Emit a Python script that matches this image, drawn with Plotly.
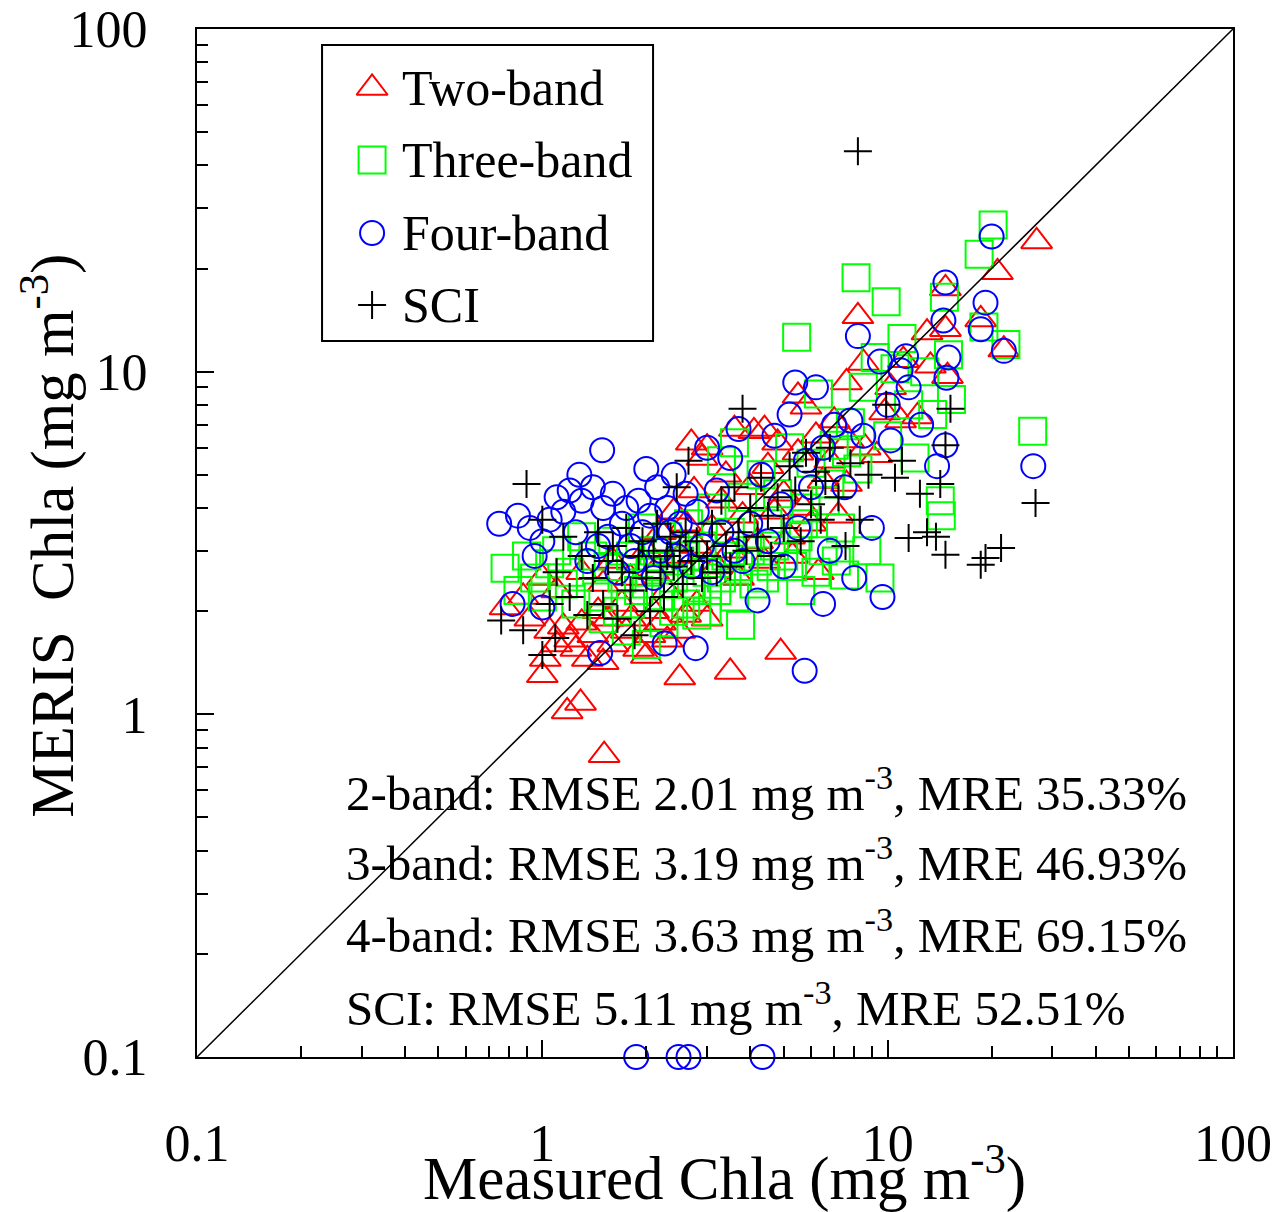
import plotly.graph_objects as go

# ---------------- data (mg m^-3) ----------------
two_x = [0.78, 0.88, 0.92, 1.0, 1.02, 1.05, 1.1, 1.15, 1.18, 1.2, 1.25, 1.29, 1.3, 1.35, 1.4, 1.45,
         1.51, 1.5, 1.55, 1.6, 1.7, 1.75, 1.8, 1.9, 2.0, 2.05, 2.1, 2.2, 2.3, 2.5, 2.5, 2.6, 2.8, 3.0,
         3.5, 4.9, 1.0, 1.1, 1.3, 1.5, 1.6, 1.8, 2.0, 2.1, 2.2, 2.3, 2.4, 2.5, 2.6, 2.7, 2.75, 2.8,
         2.9, 3.0, 3.1, 3.2, 3.3, 3.4, 3.5, 3.6, 3.7, 3.8, 4.0, 4.1, 4.2, 4.4, 4.5, 4.7, 4.8, 5.0,
         5.2, 5.3, 5.5, 5.5, 5.7, 5.8, 6.0, 6.2, 6.3, 6.5, 6.8, 7.0, 7.2, 7.6, 7.7, 7.6, 8.2, 8.5,
         8.6, 9.3, 9.8, 10.2, 10.9, 11.1, 12.2, 13.0, 13.3, 14.7, 14.7, 14.9, 18.6, 20.8, 21.7,
         27.0, 4.4]
two_y = [2.05, 2.2, 1.9, 1.3, 1.45, 1.75, 1.6, 1.8, 1.02, 1.65, 1.55, 1.08, 1.85, 1.45, 1.7, 2.0,
         0.76, 1.42, 1.9, 1.6, 2.1, 1.75, 1.9, 1.55, 1.48, 1.7, 2.0, 1.85, 1.65, 1.28, 1.75, 1.95,
         2.1, 1.9, 1.33, 1.52, 2.5, 2.3, 2.6, 2.4, 2.8, 2.5, 3.0, 2.6, 3.4, 2.3, 3.9, 2.9, 3.6, 6.2,
         4.5, 3.1, 5.6, 6.0, 3.5, 2.7, 4.2, 5.0, 3.0, 6.8, 2.5, 3.8, 4.6, 6.7, 3.2, 2.8, 5.3, 3.9,
         6.2, 4.4, 3.3, 2.9, 5.8, 8.5, 4.0, 7.9, 3.6, 6.5, 2.6, 4.8, 5.5, 7.2, 3.8, 9.3, 6.3, 4.7,
         14.5, 10.6, 6.0, 5.7, 7.6, 9.0, 7.2, 10.8, 7.4, 13.0, 10.4, 13.3, 17.5, 9.7, 14.2, 19.5,
         11.6, 24.0, 6.8]

three_x = [0.78, 0.85, 0.9, 0.95, 1.0, 1.05, 1.1, 1.15, 1.2, 1.25, 1.3, 1.4, 1.45, 1.5, 1.55, 1.6,
           1.65, 1.7, 1.75, 1.8, 1.9, 1.95, 2.0, 2.05, 2.1, 2.2, 2.25, 2.3, 2.4, 2.5, 2.6, 2.65,
           2.7, 2.8, 2.9, 3.0, 3.1, 3.2, 3.3, 3.4, 3.5, 3.6, 3.7, 3.75, 3.8, 4.0, 4.1, 4.3, 4.5,
           4.6, 4.8, 5.0, 5.2, 5.45, 5.5, 5.6, 5.8, 6.0, 6.2, 6.3, 6.5, 6.8, 7.0, 7.3, 7.5, 7.8,
           8.1, 8.2, 8.5, 8.7, 9.2, 9.5, 9.9, 10.0, 10.5, 11.0, 11.5, 12.0, 12.8, 13.5, 14.2,
           14.3, 14.6, 15.0, 15.3, 18.4, 19.0, 20.2, 22.0, 26.3, 1.8, 2.0, 2.2, 2.4, 2.6, 2.8,
           3.0, 3.3, 3.6, 4.2, 4.4, 4.7, 5.3, 5.7, 6.6, 7.1, 7.6]
three_y = [2.67, 2.3, 2.9, 2.5, 2.2, 2.75, 3.0, 2.4, 2.6, 2.1, 3.3, 2.9, 2.2, 1.9, 2.7, 3.2,
           2.0, 2.5, 1.75, 2.9, 2.3, 3.5, 1.6, 2.6, 3.0, 2.2, 1.85, 3.3, 2.5, 2.8, 2.1, 3.6,
           2.4, 1.95, 3.1, 2.6, 4.0, 2.3, 5.5, 2.9, 3.4, 6.2, 2.7, 1.82, 4.3, 3.0, 2.4, 5.0, 3.6,
           2.7, 4.4, 2.9, 6.0, 12.6, 3.3, 2.3, 4.0, 5.4, 2.6, 8.6, 3.0, 4.7, 6.1, 3.5, 2.55, 7.1,
           18.8, 5.2, 9.0, 3.0, 11.0, 2.5, 16.0, 6.5, 10.2, 12.5, 8.0, 5.6, 10.0, 7.5, 4.2,
           3.8, 16.5, 11.2, 8.3, 22.0, 13.5, 26.8, 12.0, 6.7, 2.1, 2.4, 2.7, 2.0, 2.9, 2.3,
           2.0, 2.5, 2.2, 2.8, 2.5, 3.1, 2.7, 3.6, 4.2, 2.8, 5.8]

four_x = [0.75, 0.82, 0.85, 0.92, 0.95, 1.0, 1.0, 1.05, 1.1, 1.15, 1.2, 1.25, 1.28, 1.3, 1.35,
          1.4, 1.45, 1.47, 1.49, 1.5, 1.55, 1.6, 1.65, 1.7, 1.75, 1.8, 1.85, 1.9, 1.95, 2.0, 2.05,
          2.1, 2.15, 2.2, 2.26, 2.3, 2.35, 2.4, 2.45, 2.5, 2.6, 2.7, 2.78, 2.8, 2.9, 3.0, 3.1,
          3.2, 3.3, 3.5, 3.6, 3.7, 3.8, 4.0, 4.2, 4.3, 4.5, 4.7, 4.9, 5.0, 5.2, 5.4, 5.5, 5.75,
          5.8, 6.0, 6.2, 6.5, 6.5, 6.8, 7.0, 7.5, 7.8, 8.0, 8.2, 8.5, 9.0, 9.5, 9.66, 10.0, 10.2,
          10.9, 11.3, 11.5, 12.5, 13.9, 14.5, 14.7, 14.7, 14.8, 15.0, 18.6, 19.2, 20.0, 21.7,
          26.4, 1.87, 2.48, 2.65, 4.34]
four_y = [3.6, 2.1, 3.8, 3.5, 2.9, 3.2, 2.05, 3.7, 4.3, 3.9, 4.5, 3.4, 5.0, 4.2, 2.8,
          4.6, 3.1, 1.51, 5.9, 4.0, 3.3, 4.4, 2.6, 3.6, 4.0, 3.1, 2.8, 4.2, 3.4, 5.2, 3.8,
          2.5, 4.6, 3.0, 1.61, 4.0, 3.4, 5.0, 2.9, 3.6, 4.4, 2.7, 1.56, 3.9, 3.1, 6.0, 2.6,
          4.5, 3.4, 5.6, 3.0, 6.8, 2.8, 3.6, 2.15, 5.0, 3.2, 6.5, 4.1, 2.7, 7.5, 9.3, 3.5, 1.34,
          5.5, 4.6, 9.0, 2.1, 6.0, 3.0, 7.0, 4.6, 7.2, 2.5, 12.7, 6.5, 3.5, 10.7, 2.2, 8.0, 6.3,
          10.1, 11.1, 9.0, 7.0, 5.3, 14.1, 18.2, 6.1, 9.6, 11.0, 13.3, 15.9, 24.8, 11.5,
          5.3, 0.1, 0.1, 0.1, 0.1]

sci_x = [0.76, 0.88, 0.9, 1.0, 1.0, 1.05, 1.09, 1.1, 1.15, 1.2, 1.3, 1.35, 1.4, 1.45, 1.5, 1.55,
         1.6, 1.65, 1.7, 1.75, 1.8, 1.85, 1.9, 1.95, 2.0, 2.05, 2.1, 2.15, 2.2, 2.25, 2.3, 2.35,
         2.4, 2.45, 2.5, 2.55, 2.6, 2.65, 2.7, 2.8, 2.9, 3.0, 3.1, 3.2, 3.3, 3.4, 3.5, 3.6, 3.7,
         3.8, 3.9, 4.0, 4.2, 4.3, 4.5, 4.6, 4.8, 5.0, 5.2, 5.4, 5.6, 5.8, 6.0, 6.2, 6.4, 6.6, 6.8,
         7.2, 7.55, 7.8, 8.2, 8.3, 8.8, 9.9, 10.5, 11.0, 11.5, 12.4, 13.0, 13.8, 14.2, 14.7, 14.7,
         15.2, 18.6, 19.2, 21.3, 26.8]
sci_y = [1.88, 1.76, 4.7, 1.49, 3.7, 2.1, 1.67, 2.6, 3.3, 2.2, 2.9, 1.95, 2.5, 3.4, 2.1, 2.8,
         3.1, 1.9, 2.6, 3.5, 2.3, 1.7, 2.9, 3.2, 2.5, 2.0, 3.0, 3.6, 2.6, 2.2, 2.9, 3.3,
         2.7, 4.6, 3.0, 2.4, 3.4, 5.5, 2.8, 3.2, 2.5, 2.9, 3.6, 2.6, 4.2, 3.1, 2.7, 4.6, 3.4,
         7.8, 3.0, 4.0, 3.3, 4.9, 3.8, 2.9, 4.3, 3.5, 5.3, 4.5, 3.2, 5.8, 4.1, 5.1, 3.7, 4.8, 6.0,
         4.3, 3.1, 5.4, 44.0, 3.7, 5.0, 8.0, 4.9, 5.5, 3.27, 4.4, 3.4, 3.3, 4.7, 2.92, 6.1,
         7.8, 2.73, 2.86, 3.06, 4.14]

series_names = ["Two-band", "Three-band", "Four-band", "SCI"]
stats_lines = [
    "2-band: RMSE 2.01 mg m<sup>-3</sup>, MRE 35.33%",
    "3-band: RMSE 3.19 mg m<sup>-3</sup>, MRE 46.93%",
    "4-band: RMSE 3.63 mg m<sup>-3</sup>, MRE 69.15%",
    "SCI: RMSE 5.11 mg m<sup>-3</sup>, MRE 52.51%",
]
tick_vals = [0.1, 1, 10, 100]
tick_text = ["0.1", "1", "10", "100"]
one_to_one = [0.1, 100]

# ---------------- styles ----------------
FONT = "Liberation Serif"
styles = [
    dict(symbol="triangle-up-open", size=27, color="#FF0000", line=dict(color="#FF0000", width=2)),
    dict(symbol="square-open", size=27, color="#00FF00", line=dict(color="#00FF00", width=2)),
    dict(symbol="circle-open", size=24, color="#0000FF", line=dict(color="#0000FF", width=2)),
    dict(symbol="cross-thin-open", size=20, color="#000000", line=dict(color="#000000", width=2)),
]
data = [(two_x, two_y), (three_x, three_y), (four_x, four_y), (sci_x, sci_y)]

fig = go.Figure()
for (xs, ys), st, name in zip(data, styles, series_names):
    fig.add_trace(go.Scatter(x=xs, y=ys, mode="markers", name=name, marker=st,
                             showlegend=False, cliponaxis=False))

fig.add_trace(go.Scatter(x=one_to_one, y=one_to_one, mode="lines",
                         line=dict(color="black", width=1.5), showlegend=False, hoverinfo="skip"))

# custom legend (glyph positions in an overlay axis, 0..1 of the plot area)
leg_x = 0.169
leg_y = [0.9426, 0.8726, 0.8016, 0.7315]
for st, name, yy in zip(styles, series_names, leg_y):
    fig.add_trace(go.Scatter(x=[leg_x], y=[yy], mode="markers", marker=st, xaxis="x2", yaxis="y2",
                             showlegend=False, hoverinfo="skip", cliponaxis=False))

annotations = []
for name, yy in zip(series_names, leg_y):
    annotations.append(dict(xref="paper", yref="paper", x=0.196, y=yy, text=name, showarrow=False,
                            xanchor="left", yanchor="middle", font=dict(family=FONT, size=50, color="black")))

stat_y = [0.2605, 0.1922, 0.1222, 0.0512]
for txt, yy in zip(stats_lines, stat_y):
    annotations.append(dict(xref="paper", yref="paper", x=0.1415, y=yy, text=txt, showarrow=False,
                            xanchor="left", yanchor="middle", font=dict(family=FONT, size=49, color="black")))

# axis titles
annotations.append(dict(xref="paper", yref="paper", x=0.5087, y=-0.114, text="Measured Chla (mg m<sup>-3</sup>)",
                        showarrow=False, xanchor="center", yanchor="middle",
                        font=dict(family=FONT, size=61, color="black")))
annotations.append(dict(xref="paper", yref="paper", x=-0.143, y=0.5068,
                        text="MERIS  Chla (mg m<sup>-3</sup>)", textangle=-90,
                        showarrow=False, xanchor="center", yanchor="middle",
                        font=dict(family=FONT, size=61, color="black")))

axis_common = dict(
    type="log", range=[-1, 2], tickvals=tick_vals, ticktext=tick_text,
    showline=True, linecolor="black", linewidth=2, mirror=True,
    ticks="inside", ticklen=17, tickwidth=1.5, tickcolor="black",
    showgrid=False, zeroline=False,
    tickfont=dict(family=FONT, size=52, color="black"),
    minor=dict(ticks="inside", ticklen=11, tickwidth=1.5, tickcolor="black", dtick="D1", showgrid=False),
)

fig.update_layout(
    width=1282, height=1212,
    margin=dict(l=197, r=49, t=29, b=155, autoexpand=False),
    paper_bgcolor="white", plot_bgcolor="white",
    showlegend=False,
    xaxis=dict(**axis_common, ticklabelstandoff=40),
    yaxis=dict(**axis_common, ticklabelstandoff=37),
    xaxis2=dict(overlaying="x", range=[0, 1], visible=False, anchor="y2", fixedrange=True),
    yaxis2=dict(overlaying="y", range=[0, 1], visible=False, anchor="x2", fixedrange=True),
    annotations=annotations,
    shapes=[dict(type="rect", xref="paper", yref="paper", x0=0.1207, x1=0.4402, y0=0.6965, y1=0.9844,
                 line=dict(color="black", width=2), fillcolor="rgba(0,0,0,0)", layer="below")],
)

fig.write_html("out.html")
